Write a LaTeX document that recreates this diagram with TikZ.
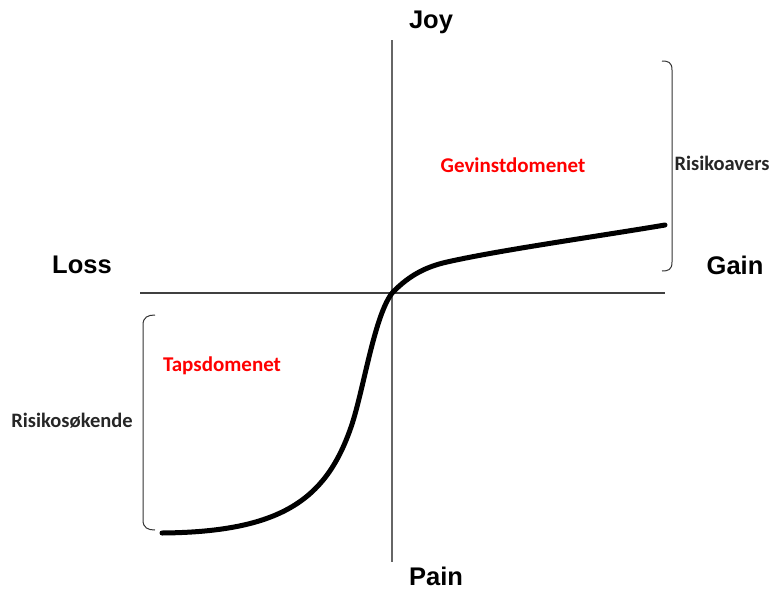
\documentclass[tikz,border=0pt]{standalone}
\usepackage{fontspec}
\setmainfont{Liberation Sans}
\newfontfamily\calib{Carlito}
\begin{document}
\begin{tikzpicture}[x=1pt,y=-1pt,
  axis/.style={draw=gray!80!black,line width=1.6pt},
  big/.style={font=\fontsize{25.5}{28}\selectfont\bfseries,text=black},
  dom/.style={font=\calib\fontsize{21}{24}\selectfont\bfseries,text=red},
  side/.style={font=\calib\fontsize{20.5}{23}\selectfont\bfseries,text=black!85},
  brace/.style={draw=black!80,line width=1pt}]
\useasboundingbox (0,0) rectangle (780,590);
% axes
\coordinate (ytop) at (392,40);
\coordinate (ybot) at (392,562);
\coordinate (xl) at (140,293);
\coordinate (xr) at (665,293);
\draw[axis] (ytop) -- (ybot);
\draw[axis,draw=black!75] (xl) -- (xr);
% curve
\coordinate (c0) at (162,533);
\coordinate (c1) at (350,430);
\coordinate (o) at (393,292);
\coordinate (c3) at (447,262);
\coordinate (c4) at (665,225);
\draw[line width=5pt,line cap=round] (c0) .. controls (280,532) and (325,500) .. (c1)
  .. controls (363,395) and (374,314) .. (o)
  .. controls (405,280) and (420,268) .. (c3)
  .. controls (500,250) and (600,236) .. (c4);
% braces
\coordinate (rb1) at (662,61);
\coordinate (rb2) at (662,271);
\draw[brace] (rb1) .. controls (668,61) and (672,62) .. (672,70) -- (672,262) .. controls (672,270) and (668,271) .. (rb2);
\coordinate (lb1) at (155,315);
\coordinate (lb2) at (155,530);
\draw[brace] (lb1) .. controls (148,315) and (143,317) .. (143,325) -- (143,520) .. controls (143,528) and (148,530) .. (lb2);
% labels
\node[big] (joy) at (431,22) {Joy};
\node[big] (pain) at (436,576) {Pain};
\node[big] (loss) at (82,265) {Loss};
\node[big] (gain) at (735,265) {Gain};
\node[dom] (gev) at (513,165) {Gevinstdomenet};
\node[dom] (taps) at (222,366) {Tapsdomenet};
\node[side] (rav) at (722,163) {Risikoavers};
\node[side] (rsk) at (72,421) {Risikosøkende};
\end{tikzpicture}
\end{document}
